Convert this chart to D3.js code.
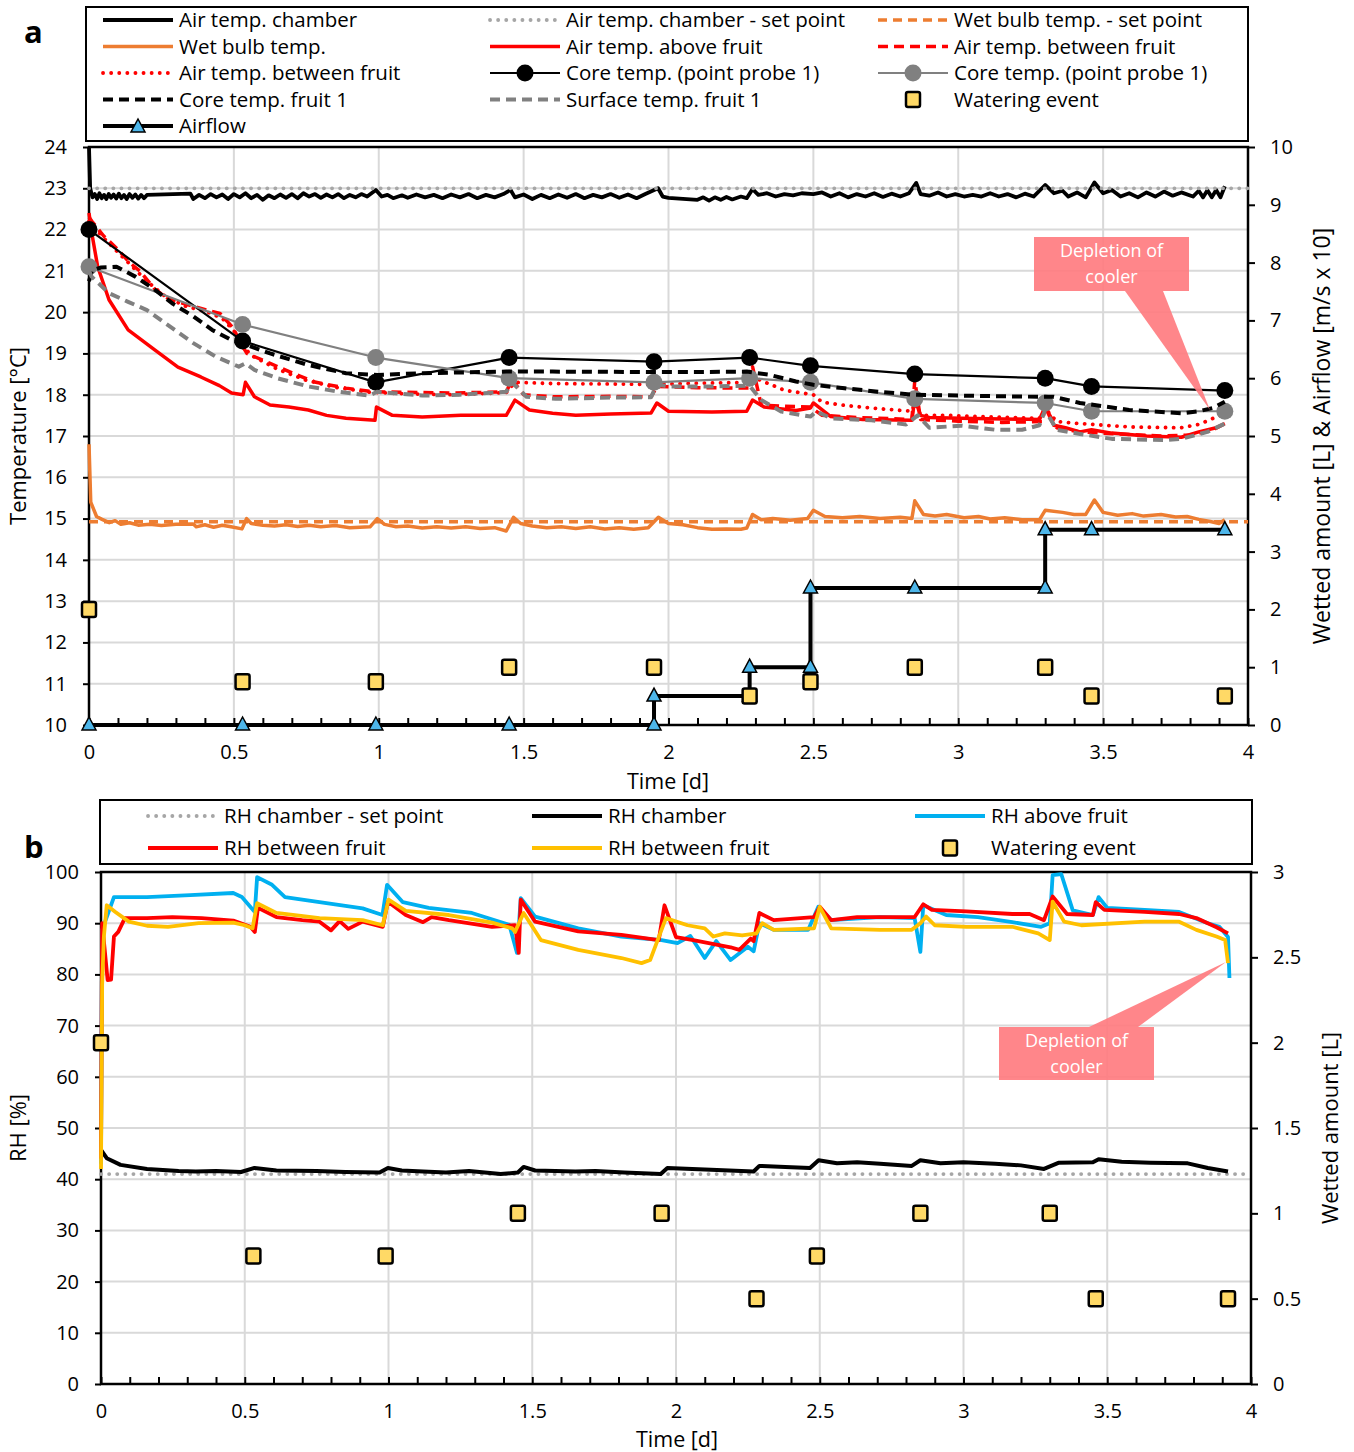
<!DOCTYPE html>
<html>
<head>
<meta charset="utf-8">
<script src="https://cdn.jsdelivr.net/npm/d3@7"></script>
<style>
body { margin: 0; background: #fff; }
svg { display: block; font-family: 'Open Sans', sans-serif; }
</style>
</head>
<body>
<svg></svg>
<script>
'use strict';

// ---- panel a: temperatures [°C], pairs of [time d, value]
var airChamber = [[0,24.0],[0.004,23.0],[0.012,22.78],[0.02,22.86],[0.028,22.74],[0.036,22.88],[0.044,22.76],[0.052,22.84],[0.06,22.74],[0.068,22.86],[0.076,22.77],[0.085,22.85],[0.094,22.75],[0.103,22.87],[0.112,22.76],[0.121,22.84],[0.13,22.74],[0.14,22.86],[0.15,22.77],[0.16,22.85],[0.17,22.75],[0.18,22.84],[0.19,22.76],[0.2,22.84],[0.35,22.87],[0.36,22.74],[0.38,22.84],[0.4,22.76],[0.42,22.86],[0.44,22.78],[0.46,22.85],[0.48,22.74],[0.5,22.86],[0.52,22.78],[0.54,22.88],[0.56,22.76],[0.58,22.84],[0.6,22.72],[0.62,22.83],[0.64,22.76],[0.66,22.85],[0.68,22.77],[0.7,22.86],[0.72,22.76],[0.74,22.88],[0.76,22.8],[0.78,22.86],[0.8,22.77],[0.82,22.85],[0.84,22.78],[0.86,22.86],[0.88,22.76],[0.9,22.84],[0.92,22.78],[0.94,22.86],[0.96,22.8],[0.99,22.96],[1.01,22.8],[1.03,22.84],[1.05,22.76],[1.08,22.83],[1.1,22.77],[1.13,22.85],[1.16,22.78],[1.19,22.84],[1.22,22.76],[1.25,22.85],[1.28,22.78],[1.31,22.86],[1.34,22.76],[1.37,22.84],[1.4,22.78],[1.43,22.86],[1.455,22.96],[1.47,22.78],[1.5,22.85],[1.53,22.74],[1.56,22.84],[1.59,22.76],[1.62,22.85],[1.65,22.77],[1.68,22.86],[1.71,22.76],[1.74,22.84],[1.77,22.78],[1.8,22.86],[1.83,22.77],[1.86,22.85],[1.89,22.76],[1.92,22.86],[1.964,23.0],[1.98,22.8],[2.0,22.77],[2.1,22.72],[2.12,22.78],[2.14,22.7],[2.16,22.78],[2.18,22.72],[2.2,22.79],[2.22,22.73],[2.25,22.8],[2.27,22.76],[2.29,22.98],[2.31,22.84],[2.34,22.88],[2.37,22.8],[2.4,22.86],[2.43,22.83],[2.46,22.88],[2.5,22.86],[2.53,22.9],[2.56,22.8],[2.59,22.88],[2.62,22.78],[2.65,22.86],[2.68,22.8],[2.71,22.88],[2.74,22.79],[2.77,22.87],[2.8,22.8],[2.83,22.88],[2.855,23.13],[2.87,22.86],[2.9,22.82],[2.93,22.9],[2.96,22.8],[2.99,22.86],[3.02,22.8],[3.05,22.84],[3.08,22.8],[3.11,22.88],[3.14,22.8],[3.17,22.86],[3.2,22.78],[3.23,22.87],[3.26,22.8],[3.3,23.08],[3.33,22.88],[3.36,22.94],[3.38,22.8],[3.41,22.9],[3.44,22.78],[3.47,23.14],[3.5,22.88],[3.53,22.96],[3.56,22.8],[3.59,22.88],[3.62,22.78],[3.65,22.9],[3.68,22.8],[3.71,22.92],[3.74,22.82],[3.77,22.9],[3.81,22.8],[3.83,22.94],[3.845,22.78],[3.86,22.95],[3.875,22.78],[3.89,22.96],[3.905,22.78],[3.92,23.05]];
var airChamberSet = [[0,23.0],[4,23.0]];
var wetBulbSet = [[0,14.92],[4,14.92]];
var wetBulb = [[0,16.8],[0.006,15.4],[0.026,15.05],[0.045,14.98],[0.07,14.9],[0.09,14.95],[0.11,14.86],[0.14,14.9],[0.17,14.84],[0.21,14.86],[0.25,14.83],[0.3,14.86],[0.36,14.87],[0.37,14.8],[0.4,14.85],[0.43,14.79],[0.46,14.84],[0.49,14.8],[0.528,14.75],[0.544,15.0],[0.56,14.88],[0.6,14.84],[0.64,14.82],[0.68,14.85],[0.72,14.81],[0.76,14.84],[0.8,14.8],[0.85,14.83],[0.9,14.78],[0.97,14.8],[0.995,15.0],[1.02,14.86],[1.06,14.8],[1.1,14.82],[1.15,14.77],[1.2,14.8],[1.25,14.77],[1.3,14.8],[1.35,14.76],[1.4,14.78],[1.44,14.7],[1.465,15.03],[1.49,14.88],[1.53,14.82],[1.58,14.78],[1.63,14.8],[1.68,14.76],[1.73,14.8],[1.78,14.75],[1.83,14.78],[1.88,14.74],[1.93,14.78],[1.965,15.03],[2.0,14.88],[2.05,14.85],[2.1,14.78],[2.15,14.74],[2.2,14.75],[2.25,14.74],[2.27,14.77],[2.29,15.1],[2.32,14.97],[2.36,15.0],[2.42,14.96],[2.48,15.0],[2.5,15.2],[2.54,15.05],[2.6,15.02],[2.66,15.05],[2.73,15.0],[2.8,15.03],[2.84,15.0],[2.85,15.43],[2.88,15.1],[2.92,15.06],[2.96,15.1],[3.02,15.02],[3.07,15.05],[3.11,14.99],[3.16,15.02],[3.22,14.97],[3.28,14.97],[3.3,15.2],[3.36,15.15],[3.4,15.1],[3.44,15.1],[3.47,15.45],[3.5,15.15],[3.55,15.08],[3.6,15.12],[3.64,15.06],[3.7,15.1],[3.75,15.04],[3.79,15.05],[3.83,14.98],[3.87,14.93],[3.9,14.88],[3.92,14.97]];
var airAbove = [[0,22.4],[0.01,21.9],[0.03,21.1],[0.069,20.3],[0.135,19.57],[0.228,19.08],[0.307,18.67],[0.386,18.43],[0.45,18.22],[0.492,18.04],[0.532,18.0],[0.54,18.3],[0.571,17.95],[0.625,17.75],[0.69,17.7],[0.757,17.63],[0.82,17.5],[0.887,17.43],[0.987,17.38],[0.992,17.7],[1.047,17.5],[1.15,17.46],[1.283,17.5],[1.44,17.5],[1.47,17.87],[1.52,17.63],[1.6,17.55],[1.68,17.5],[1.8,17.53],[1.94,17.56],[1.96,17.8],[2.0,17.6],[2.15,17.58],[2.27,17.6],[2.29,17.87],[2.33,17.7],[2.44,17.62],[2.49,17.68],[2.5,17.8],[2.56,17.47],[2.67,17.4],[2.84,17.38],[2.85,17.9],[2.87,17.5],[2.9,17.45],[3.01,17.43],[3.28,17.4],[3.3,17.7],[3.33,17.26],[3.37,17.2],[3.42,17.1],[3.46,17.15],[3.53,17.07],[3.65,17.0],[3.77,16.97],[3.83,17.1],[3.89,17.2],[3.92,17.3]];
var airBetweenDash = [[0,22.3],[0.01,22.2],[0.05,21.85],[0.095,21.55],[0.14,21.2],[0.175,21.0],[0.228,20.55],[0.28,20.3],[0.33,20.2],[0.41,20.04],[0.452,19.97],[0.5,19.6],[0.517,19.32],[0.545,19.0],[0.625,18.76],[0.704,18.52],[0.783,18.3],[0.887,18.16],[0.98,18.07],[1.1,18.06],[1.25,18.04],[1.44,18.07],[1.46,18.36],[1.5,18.0],[1.6,17.95],[1.8,17.96],[1.94,17.95],[1.96,18.2],[2.1,18.17],[2.28,18.16],[2.29,18.68],[2.32,17.75],[2.4,17.72],[2.49,17.7],[2.53,17.5],[2.65,17.45],[2.84,17.4],[2.85,18.35],[2.87,17.4],[3.0,17.36],[3.15,17.33],[3.29,17.35],[3.3,17.7],[3.34,17.2],[3.42,17.1],[3.55,17.05],[3.7,17.0],[3.8,17.02],[3.88,17.15],[3.92,17.3]];
var airBetweenDot = [[0,22.2],[0.05,21.8],[0.1,21.45],[0.15,21.1],[0.2,20.75],[0.26,20.4],[0.33,20.15],[0.41,20.0],[0.46,19.85],[0.5,19.55],[0.53,19.2],[0.56,18.95],[0.65,18.62],[0.75,18.35],[0.85,18.18],[0.97,18.06],[1.1,18.02],[1.25,18.0],[1.44,18.05],[1.47,18.3],[1.6,18.27],[1.8,18.26],[1.95,18.25],[2.1,18.28],[2.28,18.3],[2.3,18.4],[2.4,18.11],[2.5,18.0],[2.53,17.82],[2.61,17.74],[2.73,17.66],[2.84,17.6],[2.85,17.8],[2.87,17.5],[2.96,17.5],[3.07,17.47],[3.28,17.43],[3.3,17.67],[3.34,17.35],[3.42,17.3],[3.59,17.22],[3.77,17.2],[3.83,17.28],[3.88,17.43],[3.92,17.56]];
var coreFruit = [[0,20.75],[0.01,21.0],[0.04,21.08],[0.095,21.1],[0.16,20.86],[0.228,20.54],[0.29,20.2],[0.36,19.9],[0.425,19.57],[0.49,19.33],[0.545,19.2],[0.625,19.0],[0.757,18.72],[0.887,18.52],[0.995,18.48],[1.15,18.52],[1.44,18.56],[1.6,18.56],[1.925,18.55],[2.1,18.55],[2.27,18.56],[2.35,18.48],[2.44,18.32],[2.5,18.24],[2.6,18.16],[2.73,18.07],[2.845,18.0],[3.07,17.97],[3.28,17.95],[3.33,17.95],[3.42,17.8],[3.59,17.63],[3.77,17.55],[3.83,17.6],[3.88,17.68],[3.92,17.83]];
var surfaceFruit = [[0,21.0],[0.009,20.86],[0.069,20.46],[0.135,20.25],[0.2,20.05],[0.28,19.65],[0.36,19.25],[0.438,18.92],[0.517,18.68],[0.54,18.76],[0.571,18.6],[0.65,18.4],[0.757,18.2],[0.862,18.07],[0.968,17.98],[0.994,18.07],[1.15,17.98],[1.28,18.0],[1.44,18.07],[1.46,18.3],[1.51,17.95],[1.61,17.9],[1.8,17.93],[1.94,17.94],[1.96,18.25],[2.0,18.2],[2.15,18.2],[2.28,18.22],[2.32,17.87],[2.39,17.59],[2.49,17.47],[2.51,17.6],[2.56,17.43],[2.7,17.38],[2.82,17.28],[2.86,17.5],[2.9,17.2],[3.01,17.25],[3.13,17.15],[3.22,17.15],[3.28,17.26],[3.3,17.63],[3.34,17.15],[3.42,17.05],[3.53,16.93],[3.71,16.9],[3.77,16.93],[3.86,17.1],[3.92,17.3]];

// point probes and watering events share the same times
var eventTimes = [0, 0.53, 0.99, 1.45, 1.95, 2.28, 2.49, 2.85, 3.30, 3.46, 3.92];
var probeBlack = [22.0, 19.3, 18.3, 18.9, 18.8, 18.9, 18.7, 18.5, 18.4, 18.2, 18.1];
var probeGray = [21.1, 19.7, 18.9, 18.4, 18.3, 18.4, 18.3, 17.9, 17.8, 17.6, 17.6];
var watered = [2, 0.75, 0.75, 1, 1, 0.5, 0.75, 1, 1, 0.5, 0.5];

// airflow [m/s x 10] step points
var airflowTimes = [0, 0.53, 0.99, 1.45, 1.95, 1.95, 2.28, 2.28, 2.49, 2.49, 2.85, 3.30, 3.30, 3.46, 3.92];
var airflowValues = [0, 0, 0, 0, 0, 0.5, 0.5, 1.0, 1.0, 2.37, 2.37, 2.37, 3.38, 3.38, 3.38];

// ---- panel b: relative humidity [%]
var rhSet = [[0,41],[4,41]];
var rhChamber = [[0,45.7],[0.02,44.1],[0.068,42.8],[0.16,42.0],[0.27,41.6],[0.33,41.5],[0.4,41.6],[0.487,41.4],[0.534,42.2],[0.61,41.7],[0.75,41.6],[0.85,41.4],[0.969,41.3],[0.998,42.2],[1.046,41.7],[1.12,41.5],[1.2,41.3],[1.28,41.6],[1.39,41.0],[1.45,41.3],[1.47,42.4],[1.51,41.7],[1.65,41.5],[1.72,41.6],[1.82,41.3],[1.947,41.0],[1.97,42.2],[2.1,41.9],[2.27,41.5],[2.29,42.6],[2.38,42.4],[2.466,42.2],[2.496,43.7],[2.56,43.1],[2.63,43.3],[2.71,43.0],[2.82,42.6],[2.85,43.7],[2.92,43.1],[3.0,43.3],[3.11,43.0],[3.2,42.7],[3.28,42.0],[3.33,43.2],[3.45,43.3],[3.47,43.9],[3.55,43.4],[3.65,43.2],[3.78,43.1],[3.85,42.2],[3.92,41.5]];
var rhAbove = [[0,43],[0.004,88.7],[0.045,95.1],[0.16,95.1],[0.31,95.5],[0.46,95.9],[0.49,95.1],[0.535,92.2],[0.543,99.0],[0.595,97.5],[0.64,95.1],[0.76,94.1],[0.91,92.9],[0.979,91.6],[0.995,97.5],[1.05,94.1],[1.14,93.0],[1.29,92.0],[1.42,89.7],[1.447,84.2],[1.46,94.9],[1.51,91.3],[1.66,89.0],[1.81,87.4],[1.95,86.7],[2.005,86.1],[2.05,87.5],[2.1,83.2],[2.14,86.5],[2.19,82.8],[2.25,85.4],[2.27,84.5],[2.29,90.0],[2.34,88.7],[2.46,88.7],[2.495,93.2],[2.54,90.6],[2.71,91.2],[2.83,91.0],[2.85,84.4],[2.86,93.5],[2.94,91.6],[3.05,91.2],[3.17,90.2],[3.27,89.3],[3.30,90.0],[3.31,99.4],[3.34,99.6],[3.38,92.5],[3.45,91.6],[3.47,95.1],[3.5,93.0],[3.63,92.6],[3.75,92.2],[3.85,90.0],[3.89,89.3],[3.92,87.3],[3.925,79.3]];
var rhBetweenRed = [[0,44],[0.004,90.0],[0.023,78.9],[0.035,79],[0.045,87.4],[0.06,88.3],[0.083,91.0],[0.16,91.0],[0.248,91.2],[0.35,91.0],[0.46,90.5],[0.52,89.3],[0.535,88.3],[0.546,93.0],[0.61,91.2],[0.7,90.6],[0.76,90.3],[0.8,88.6],[0.83,90.4],[0.86,88.9],[0.91,90.3],[0.98,89.3],[0.998,94.2],[1.06,91.6],[1.12,90.2],[1.15,91.2],[1.21,90.6],[1.36,89.3],[1.44,89.6],[1.453,84.2],[1.46,94.6],[1.51,90.3],[1.66,88.4],[1.81,87.7],[1.94,86.7],[1.96,93.5],[2.0,87.3],[2.06,86.7],[2.19,85.3],[2.22,84.8],[2.26,87.0],[2.27,86.5],[2.29,92.0],[2.34,90.6],[2.48,91.2],[2.5,93.2],[2.54,90.6],[2.63,91.2],[2.83,91.2],[2.86,93.7],[2.89,92.6],[3.01,92.3],[3.17,91.8],[3.23,91.8],[3.28,90.6],[3.31,95.2],[3.36,91.8],[3.45,91.6],[3.46,94.1],[3.49,92.6],[3.63,92.2],[3.75,91.8],[3.81,91.0],[3.88,89.2],[3.92,88.0]];
var rhBetweenYellow = [[0,42],[0.004,78],[0.01,87.4],[0.02,93.5],[0.05,92.2],[0.097,90.3],[0.16,89.5],[0.233,89.3],[0.34,90.0],[0.46,90.1],[0.5,89.6],[0.527,89.0],[0.543,93.9],[0.61,92.0],[0.76,91.0],[0.91,90.6],[0.98,89.6],[1.0,94.6],[1.06,92.4],[1.21,91.6],[1.36,90.1],[1.43,89.0],[1.44,88.3],[1.47,92.0],[1.53,86.7],[1.66,84.8],[1.81,83.2],[1.88,82.2],[1.91,82.8],[1.965,91.0],[2.04,89.6],[2.1,89.0],[2.13,87.4],[2.17,88.0],[2.23,87.6],[2.28,88.0],[2.3,90.0],[2.34,88.7],[2.48,89.0],[2.5,93.2],[2.54,89.0],[2.71,88.7],[2.82,88.7],[2.85,90.0],[2.87,91.3],[2.9,89.6],[3.01,89.3],[3.17,89.3],[3.26,88.0],[3.3,86.7],[3.31,94.2],[3.35,90.3],[3.41,89.6],[3.63,90.3],[3.75,90.3],[3.81,88.7],[3.88,87.4],[3.91,86.7],[3.92,82.2]];

// axis tick labels
var timeTicks = [0, 0.5, 1, 1.5, 2, 2.5, 3, 3.5, 4];
var tempTicks = [10, 11, 12, 13, 14, 15, 16, 17, 18, 19, 20, 21, 22, 23, 24];
var rightTicksA = [0, 1, 2, 3, 4, 5, 6, 7, 8, 9, 10];
var rhTicks = [0, 10, 20, 30, 40, 50, 60, 70, 80, 90, 100];
var rightTicksB = [0, 0.5, 1, 1.5, 2, 2.5, 3];

function render() {

    var d3 = window.d3;
    var svg = d3.select('svg').attr('width', 1354).attr('height', 1452);
    var gridColor = '#d9d9d9';

    // line styles
    var styles = {
        chamber: { color: '#000', width: 3.8, dash: null },
        chamberSet: { color: '#a6a6a6', width: 3.8, dash: '0.1,8', cap: 'round' },
        wetSet: { color: '#ed7d31', width: 3.5, dash: '9,6' },
        wet: { color: '#ed7d31', width: 3.5, dash: null },
        above: { color: '#ff0000', width: 3.5, dash: null },
        betweenDash: { color: '#ff0000', width: 3.5, dash: '10,6' },
        betweenDot: { color: '#ff0000', width: 3.8, dash: '0.1,8', cap: 'round' },
        probeBlack: { color: '#000', width: 2.2, dash: null, dot: '#000' },
        probeGray: { color: '#808080', width: 2.2, dash: null, dot: '#808080' },
        core: { color: '#000', width: 4, dash: '10,6' },
        surface: { color: '#808080', width: 4, dash: '10,6' },
        water: { square: true },
        airflow: { color: '#000', width: 4, dash: null, tri: true },
        rhSet: { color: '#a6a6a6', width: 3.8, dash: '0.1,8', cap: 'round' },
        rhChamber: { color: '#000', width: 4, dash: null },
        rhAbove: { color: '#00b0f0', width: 3.8, dash: null },
        rhRed: { color: '#ff0000', width: 3.8, dash: null },
        rhYellow: { color: '#ffc000', width: 3.8, dash: null }
    };

    function drawLine(g, data, x, y, st) {
        var line = d3.line().x(function (d) { return x(d[0]); }).y(function (d) { return y(d[1]); });
        g.append('path').datum(data).attr('d', line)
            .attr('fill', 'none').attr('stroke', st.color).attr('stroke-width', st.width)
            .attr('stroke-dasharray', st.dash).attr('stroke-linecap', st.cap || 'butt')
            .attr('stroke-linejoin', 'round');
    }

    function square(g, cx, cy) {
        g.append('rect').attr('x', cx - 7).attr('y', cy - 7.5).attr('width', 14).attr('height', 15)
            .attr('rx', 2).attr('fill', '#ffd966').attr('stroke', '#000').attr('stroke-width', 2.5);
    }

    function triangle(g, cx, cy) {
        g.append('path').attr('d', 'M' + cx + ',' + (cy - 8) + 'L' + (cx + 7) + ',' + (cy + 5) + 'L' + (cx - 7) + ',' + (cy + 5) + 'Z')
            .attr('fill', '#4db6ea').attr('stroke', '#000').attr('stroke-width', 1.5);
    }

    function legendItem(g, x, y, st, label) {
        if (st.square) {
            square(g, x + 35, y);
        } else {
            g.append('line').attr('x1', x).attr('x2', x + 70).attr('y1', y).attr('y2', y)
                .attr('stroke', st.color).attr('stroke-width', st.width)
                .attr('stroke-dasharray', st.dash).attr('stroke-linecap', st.cap || 'butt');
            if (st.dot) {
                g.append('circle').attr('cx', x + 35).attr('cy', y).attr('r', 8.5).attr('fill', st.dot);
            }
            if (st.tri) {
                triangle(g, x + 35, y + 1);
            }
        }
        g.append('text').attr('x', x + 76).attr('y', y).attr('dy', '0.35em')
            .attr('font-size', 20.5).attr('fill', '#000').text(label);
    }

    function frame(x, y, y2, ticksL, ticksR, box, pad) {
        var g = svg.append('g');
        // gridlines
        g.selectAll('.hgrid').data(ticksL.slice(1, -1)).enter().append('line')
            .attr('x1', box.left).attr('x2', box.right)
            .attr('y1', function (d) { return y(d); }).attr('y2', function (d) { return y(d); })
            .attr('stroke', gridColor).attr('stroke-width', 2);
        g.selectAll('.vgrid').data(timeTicks.slice(1, -1)).enter().append('line')
            .attr('x1', function (d) { return x(d); }).attr('x2', function (d) { return x(d); })
            .attr('y1', box.top).attr('y2', box.bottom)
            .attr('stroke', gridColor).attr('stroke-width', 2);

        var fmt = function (d) { return String(d); };
        var left = g.append('g').attr('transform', 'translate(' + box.left + ',0)')
            .call(d3.axisLeft(y).tickValues(ticksL).tickSize(6).tickPadding(16).tickFormat(fmt));
        var right = g.append('g').attr('transform', 'translate(' + box.right + ',0)')
            .call(d3.axisRight(y2).tickValues(ticksR).tickSize(7).tickPadding(15).tickFormat(fmt));
        var bottom = g.append('g').attr('transform', 'translate(0,' + box.bottom + ')')
            .call(d3.axisBottom(x).tickValues(timeTicks).tickSize(0).tickPadding(pad).tickFormat(fmt));
        var minor = g.append('g').attr('transform', 'translate(0,' + box.bottom + ')')
            .call(d3.axisTop(x).tickValues(d3.range(0, 41).map(function (i) { return i / 10; })).tickSize(7).tickFormat(''));
        [left, right, bottom, minor].forEach(function (a) {
            a.select('.domain').remove();
            a.selectAll('.tick line').attr('stroke', '#000').attr('stroke-width', 2);
            a.selectAll('text').attr('font-size', 20).attr('fill', '#000').attr('font-family', 'Open Sans, sans-serif');
        });
        g.append('rect').attr('x', box.left).attr('y', box.top)
            .attr('width', box.right - box.left).attr('height', box.bottom - box.top)
            .attr('fill', 'none').attr('stroke', '#000').attr('stroke-width', 2.5);
        return g;
    }

    function callout(g, rect, tip, base) {
        g.append('path').attr('d', 'M' + base[0] + ',' + base[1] + 'L' + tip[0] + ',' + tip[1] + 'L' + base[2] + ',' + base[3] + 'Z')
            .attr('fill', '#ff7c80').attr('fill-opacity', 0.92);
        g.append('rect').attr('x', rect[0]).attr('y', rect[1]).attr('width', rect[2]).attr('height', rect[3])
            .attr('fill', '#ff7c80').attr('fill-opacity', 0.92);
        var cx = rect[0] + rect[2] / 2;
        g.append('text').attr('x', cx).attr('y', rect[1] + 14).attr('dy', '0.35em').attr('text-anchor', 'middle')
            .attr('font-size', 18).attr('fill', '#fff').text('Depletion of');
        g.append('text').attr('x', cx).attr('y', rect[1] + 40).attr('dy', '0.35em').attr('text-anchor', 'middle')
            .attr('font-size', 18).attr('fill', '#fff').text('cooler');
    }

    // ================= panel a =================
    var boxA = { left: 89, right: 1248, top: 147, bottom: 725 };
    var xA = d3.scaleLinear().domain([0, 4]).range([boxA.left, boxA.right]);
    var yA = d3.scaleLinear().domain([10, 24]).range([boxA.bottom, boxA.top]);
    var y2A = d3.scaleLinear().domain([0, 10]).range([boxA.bottom, boxA.top]);

    frame(xA, yA, y2A, tempTicks, rightTicksA, boxA, 20);

    var gA = svg.append('g');
    drawLine(gA, airChamber, xA, yA, styles.chamber);
    drawLine(gA, airChamberSet, xA, yA, styles.chamberSet);
    drawLine(gA, wetBulbSet, xA, yA, styles.wetSet);
    drawLine(gA, wetBulb, xA, yA, styles.wet);
    drawLine(gA, airAbove, xA, yA, styles.above);
    drawLine(gA, airBetweenDash, xA, yA, styles.betweenDash);
    drawLine(gA, airBetweenDot, xA, yA, styles.betweenDot);

    var probeB = eventTimes.map(function (t, i) { return [t, probeBlack[i]]; });
    var probeG = eventTimes.map(function (t, i) { return [t, probeGray[i]]; });
    drawLine(gA, probeB, xA, yA, styles.probeBlack);
    gA.selectAll('.pb').data(probeB).enter().append('circle')
        .attr('cx', function (d) { return xA(d[0]); }).attr('cy', function (d) { return yA(d[1]); })
        .attr('r', 8.5).attr('fill', '#000');
    drawLine(gA, probeG, xA, yA, styles.probeGray);
    gA.selectAll('.pg').data(probeG).enter().append('circle')
        .attr('cx', function (d) { return xA(d[0]); }).attr('cy', function (d) { return yA(d[1]); })
        .attr('r', 8.5).attr('fill', '#808080');
    drawLine(gA, coreFruit, xA, yA, styles.core);
    drawLine(gA, surfaceFruit, xA, yA, styles.surface);

    var airflow = airflowTimes.map(function (t, i) { return [t, airflowValues[i]]; });
    drawLine(gA, airflow, xA, y2A, styles.airflow);
    airflow.forEach(function (d) { triangle(gA, xA(d[0]), y2A(d[1])); });
    eventTimes.forEach(function (t, i) { square(gA, xA(t), y2A(watered[i])); });

    callout(gA, [1034, 237, 155, 54], [1210, 410], [1125, 291, 1163, 291]);

    // legend a
    var legA = svg.append('g');
    legA.append('rect').attr('x', 86).attr('y', 7).attr('width', 1162).attr('height', 134)
        .attr('fill', '#fff').attr('stroke', '#000').attr('stroke-width', 2);
    var colA = [103, 490, 878];
    var rowA = [20, 46.5, 73, 99.5, 126];
    legendItem(legA, colA[0], rowA[0], styles.chamber, 'Air temp. chamber');
    legendItem(legA, colA[1], rowA[0], styles.chamberSet, 'Air temp. chamber - set point');
    legendItem(legA, colA[2], rowA[0], styles.wetSet, 'Wet bulb temp. - set point');
    legendItem(legA, colA[0], rowA[1], styles.wet, 'Wet bulb temp.');
    legendItem(legA, colA[1], rowA[1], styles.above, 'Air temp. above fruit');
    legendItem(legA, colA[2], rowA[1], styles.betweenDash, 'Air temp. between fruit');
    legendItem(legA, colA[0], rowA[2], styles.betweenDot, 'Air temp. between fruit');
    legendItem(legA, colA[1], rowA[2], styles.probeBlack, 'Core temp. (point probe 1)');
    legendItem(legA, colA[2], rowA[2], styles.probeGray, 'Core temp. (point probe 1)');
    legendItem(legA, colA[0], rowA[3], styles.core, 'Core temp. fruit 1');
    legendItem(legA, colA[1], rowA[3], styles.surface, 'Surface temp. fruit 1');
    legendItem(legA, colA[2], rowA[3], styles.water, 'Watering event');
    legendItem(legA, colA[0], rowA[4], styles.airflow, 'Airflow');

    // titles a
    svg.append('text').attr('x', 24).attr('y', 43).attr('font-size', 31).attr('font-weight', 'bold').text('a');
    svg.append('text').attr('transform', 'translate(18,' + 436 + ') rotate(-90)').attr('dy', '0.35em')
        .attr('text-anchor', 'middle').attr('font-size', 22).text('Temperature [°C]');
    svg.append('text').attr('transform', 'translate(1322,' + 436 + ') rotate(-90)').attr('dy', '0.35em')
        .attr('text-anchor', 'middle').attr('font-size', 23).text('Wetted amount [L] & Airflow [m/s x 10]');
    svg.append('text').attr('x', 668).attr('y', 782).attr('dy', '0.32em')
        .attr('text-anchor', 'middle').attr('font-size', 21.5).text('Time [d]');

    // ================= panel b =================
    var boxB = { left: 101, right: 1251, top: 872, bottom: 1384 };
    var xB = d3.scaleLinear().domain([0, 4]).range([boxB.left, boxB.right]);
    var yB = d3.scaleLinear().domain([0, 100]).range([boxB.bottom, boxB.top]);
    var y2B = d3.scaleLinear().domain([0, 3]).range([boxB.bottom, boxB.top]);

    frame(xB, yB, y2B, rhTicks, rightTicksB, boxB, 20);

    var gB = svg.append('g');
    drawLine(gB, rhSet, xB, yB, styles.rhSet);
    drawLine(gB, rhChamber, xB, yB, styles.rhChamber);
    drawLine(gB, rhAbove, xB, yB, styles.rhAbove);
    drawLine(gB, rhBetweenRed, xB, yB, styles.rhRed);
    drawLine(gB, rhBetweenYellow, xB, yB, styles.rhYellow);
    eventTimes.forEach(function (t, i) { square(gB, xB(t), y2B(watered[i])); });

    callout(gB, [999, 1027, 155, 53], [1226, 962], [1089, 1027, 1138, 1027]);

    // legend b
    var legB = svg.append('g');
    legB.append('rect').attr('x', 100).attr('y', 800).attr('width', 1152).attr('height', 64)
        .attr('fill', '#fff').attr('stroke', '#000').attr('stroke-width', 2);
    var colB = [148, 532, 915];
    var rowB = [816, 848];
    legendItem(legB, colB[0], rowB[0], styles.rhSet, 'RH chamber - set point');
    legendItem(legB, colB[1], rowB[0], styles.rhChamber, 'RH chamber');
    legendItem(legB, colB[2], rowB[0], styles.rhAbove, 'RH above fruit');
    legendItem(legB, colB[0], rowB[1], styles.rhRed, 'RH between fruit');
    legendItem(legB, colB[1], rowB[1], styles.rhYellow, 'RH between fruit');
    legendItem(legB, colB[2], rowB[1], styles.water, 'Watering event');

    svg.append('text').attr('x', 24).attr('y', 858).attr('font-size', 31).attr('font-weight', 'bold').text('b');
    svg.append('text').attr('transform', 'translate(18,' + 1128 + ') rotate(-90)').attr('dy', '0.35em')
        .attr('text-anchor', 'middle').attr('font-size', 22).text('RH [%]');
    svg.append('text').attr('transform', 'translate(1330,' + 1128 + ') rotate(-90)').attr('dy', '0.35em')
        .attr('text-anchor', 'middle').attr('font-size', 22).text('Wetted amount [L]');
    svg.append('text').attr('x', 677).attr('y', 1440).attr('dy', '0.32em')
        .attr('text-anchor', 'middle').attr('font-size', 21.5).text('Time [d]');
}

render();
</script>
</body>
</html>
